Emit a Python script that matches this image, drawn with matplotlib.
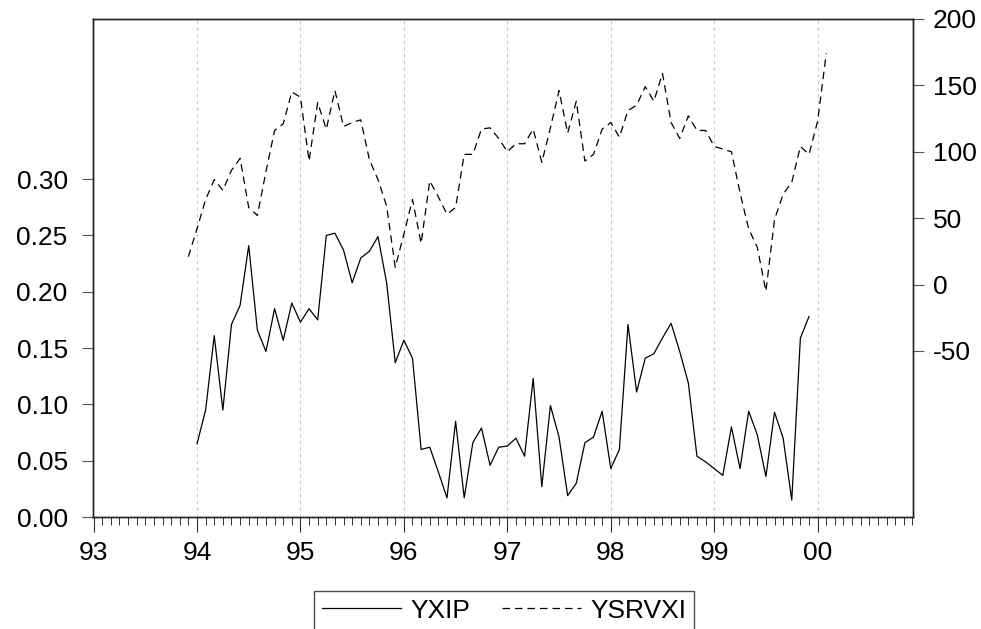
import numpy as np
import matplotlib
matplotlib.use("Agg")
import matplotlib.pyplot as plt

plt.rcParams['font.family'] = ['Liberation Sans', 'DejaVu Sans']

# monthly data, month index 0 = 1993M01
yxip_start = 12   # 1994M01
yxip = [0.065, 0.095, 0.161, 0.095, 0.171, 0.188, 0.241, 0.166, 0.147, 0.185, 0.157, 0.190,
        0.173, 0.185, 0.175, 0.250, 0.252, 0.237, 0.208, 0.230, 0.236, 0.249, 0.208, 0.137,
        0.157, 0.141, 0.060, 0.062, 0.040, 0.017, 0.085, 0.017, 0.066, 0.079, 0.046, 0.062,
        0.063, 0.070, 0.054, 0.123, 0.027, 0.099, 0.071, 0.019, 0.030, 0.066, 0.071, 0.094,
        0.043, 0.060, 0.171, 0.111, 0.141, 0.145, 0.159, 0.172, 0.147, 0.119, 0.054, 0.049,
        0.043, 0.037, 0.080, 0.043, 0.094, 0.073, 0.036, 0.093, 0.070, 0.015, 0.159, 0.178]

ysrvxi_start = 11  # 1993M12
ysrvxi = [21, 42, 64, 79, 71, 86, 95, 58, 52, 85, 116, 121, 145,
          141, 93, 137, 117, 146, 119, 122, 124, 94, 79, 59, 13,
          38, 64, 31, 78, 66, 53, 58, 98, 98, 117, 118, 110,
          100, 106, 106, 117, 92, 118, 146, 114, 138, 93, 98, 117,
          122, 111, 131, 135, 149, 138, 159, 122, 110, 127, 116, 116,
          104, 102, 100, 69, 42, 28, -5, 49, 68, 77, 104, 98, 123, 174]

year_labels = ['93', '94', '95', '96', '97', '98', '99', '00']
left_ticks = [0.00, 0.05, 0.10, 0.15, 0.20, 0.25, 0.30]
right_ticks = [-50, 0, 50, 100, 150, 200]

x1 = np.arange(yxip_start, yxip_start + len(yxip))
x2 = np.arange(ysrvxi_start, ysrvxi_start + len(ysrvxi))

fig = plt.figure(figsize=(9.81, 6.29), dpi=100)
ax = fig.add_axes([0.0945, 0.178, 0.8365, 0.792])
ax2 = ax.twinx()

l1, = ax.plot(x1, yxip, color='black', lw=0.9, label='YXIP')
l2, = ax2.plot(x2, ysrvxi, color='black', lw=0.9, dashes=(6, 4), label='YSRVXI')

for k in range(1, 8):
    ax.axvline(12 * k, color='#c8c8c8', lw=0.8, ls=(0, (3, 3)), zorder=0)

ax.set_xlim(-0.1, 95.1)
ax.set_ylim(0, 0.4423)
ax2.set_ylim(-175, 200)

ax.set_xticks(np.arange(0, 96, 12))
ax.set_xticklabels(year_labels)
ax.set_xticks(np.arange(0, 96, 1), minor=True)
ax.set_yticks(left_ticks)
ax.set_yticklabels(['%.2f' % v for v in left_ticks])
ax2.set_yticks(right_ticks)
ax2.set_yticklabels([str(v) for v in right_ticks])

ax.tick_params(axis='x', which='major', direction='out', length=11, width=0.8,
               labelsize=19, pad=6, color='#333333')
ax.tick_params(axis='x', which='minor', direction='out', length=6, width=0.7, color='#333333')
ax.tick_params(axis='y', direction='out', length=8, width=0.8, labelsize=19,
               pad=10, color='#555555')
ax2.tick_params(axis='y', direction='out', length=8, width=0.8, labelsize=19,
                pad=6, color='#555555')

for a in (ax, ax2):
    for s in a.spines.values():
        s.set_linewidth(1.0)
        s.set_color('#222222')

fig.legend(handles=[l1, l2], loc='upper center', bbox_to_anchor=(0.514, 0.061),
           ncol=2, fontsize=19, frameon=True, fancybox=False, edgecolor='#222222',
           handlelength=3.0, handletextpad=0.35, columnspacing=1.2,
           borderpad=0.3, borderaxespad=0)

fig.savefig('out.png', dpi=100)
